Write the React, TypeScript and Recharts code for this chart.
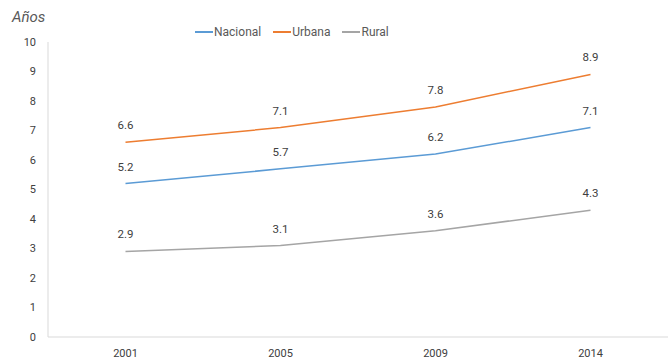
import React from "react";
import { LineChart, Line, XAxis, YAxis, Legend, LabelList } from "recharts";

const years = ["2001", "2005", "2009", "2014"];
const nacional = [5.2, 5.7, 6.2, 7.1];
const urbana = [6.6, 7.1, 7.8, 8.9];
const rural = [2.9, 3.1, 3.6, 4.3];
const yTicks = [0, 1, 2, 3, 4, 5, 6, 7, 8, 9, 10];

const series = [
  { key: "nacional", name: "Nacional", color: "#5B9BD5", values: nacional },
  { key: "urbana", name: "Urbana", color: "#ED7D31", values: urbana },
  { key: "rural", name: "Rural", color: "#A5A5A5", values: rural },
];

const data = years.map((y, i) => ({
  year: y,
  nacional: nacional[i],
  urbana: urbana[i],
  rural: rural[i],
}));

const FONT = "Roboto, 'Noto Sans', sans-serif";

const LegendContent = () => (
  <div style={{ display: "flex", fontFamily: FONT, fontSize: 12, color: "#595959", height: 14, lineHeight: "14px" }}>
    {series.map((s) => (
      <div key={s.key} style={{ display: "flex", alignItems: "center", marginRight: 12 }}>
        <div style={{ width: 18, height: 1.5, background: s.color, marginRight: 1 }} />
        <span>{s.name}</span>
      </div>
    ))}
  </div>
);

export default function App() {
  return (
    <div style={{ position: "absolute", left: 0, top: 0, width: 669, height: 362, background: "#fff" }}>
      <div
        style={{
          position: "absolute",
          left: 12,
          top: 8,
          fontFamily: FONT,
          fontStyle: "italic",
          fontSize: 15,
          color: "#595959",
        }}
      >
        Años
      </div>
      <LineChart width={669} height={362} data={data} margin={{ top: 28, right: 1, bottom: 0, left: 0 }}>
        <XAxis
          dataKey="year"
          scale="band"
          axisLine={{ stroke: "#D9D9D9" }}
          tickLine={false}
          tickSize={0}
          tickMargin={12}
          height={25}
          tick={{ fill: "#404040", fontSize: 11, fontFamily: FONT }}
        />
        <YAxis
          domain={[0, 10]}
          ticks={yTicks}
          width={48}
          axisLine={{ stroke: "#D9D9D9" }}
          tickLine={false}
          tickSize={0}
          tickMargin={12}
          interval={0}
          tick={{ fill: "#404040", fontSize: 11, fontFamily: FONT }}
        />
        <Legend
          verticalAlign="top"
          height={14}
          content={<LegendContent />}
          wrapperStyle={{ position: "absolute", top: 25, left: 195, width: 240 }}
        />
        {series.map((s) => (
          <Line
            key={s.key}
            type="linear"
            dataKey={s.key}
            name={s.name}
            stroke={s.color}
            strokeWidth={1.5}
            dot={false}
            isAnimationActive={false}
          >
            <LabelList
              dataKey={s.key}
              position="top"
              offset={13}
              style={{ fill: "#404040", fontSize: 11.5, fontFamily: FONT }}
            />
          </Line>
        ))}
      </LineChart>
    </div>
  );
}
